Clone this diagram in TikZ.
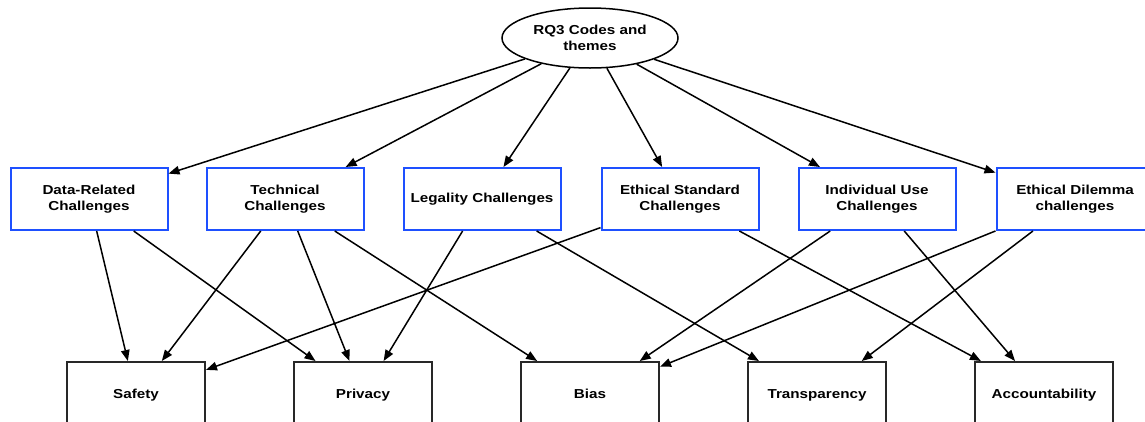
\documentclass[tikz,border=0pt]{standalone}
\usepackage{fontspec}
\setmainfont[FakeStretch=1.17]{Liberation Sans}
\usetikzlibrary{shapes.geometric,arrows.meta}

\definecolor{boxblue}{RGB}{30,80,255}
\definecolor{boxgrey}{RGB}{40,40,40}

\begin{document}
\begin{tikzpicture}[x=1pt,y=-1pt,
  every node/.style={font=\fontsize{13}{15.5}\selectfont\bfseries, align=center, inner sep=0pt},
  theme/.style={draw, ellipse, line width=1.5pt, minimum width=176pt, minimum height=60pt},
  challenge/.style={draw=boxblue, line width=2pt, minimum width=157pt, minimum height=62pt},
  concern/.style={draw=boxgrey, line width=2pt, minimum width=138pt, minimum height=66pt, text height=9.5pt, text depth=3pt},
  link/.style={-{Triangle[length=11pt,width=8.5pt]}, line width=1.5pt}]

% page frame
\useasboundingbox (0,0) rectangle (1145,421);
\clip (0,0) rectangle (1145,421);

% root
\node[theme] (rq) at (590,38) {RQ3 Codes and\\themes};

% challenge boxes
\node[challenge] (data) at (89,199) {Data-Related\\Challenges};
\node[challenge] (tech) at (285,199) {Technical\\Challenges};
\node[challenge] (legal) at (482,199) {Legality Challenges};
\node[challenge] (ethstd) at (680,199) {Ethical Standard\\Challenges};
\node[challenge] (indiv) at (877,199) {Individual Use\\Challenges};
\node[challenge] (ethdil) at (1075,199) {Ethical Dilemma\\challenges};

% concerns
\node[concern] (safety) at (136,395) {Safety};
\node[concern] (privacy) at (363,395) {Privacy};
\node[concern] (bias) at (590,395) {Bias};
\node[concern] (transp) at (817,395) {Transparency};
\node[concern] (account) at (1044,395) {Accountability};

% root to challenges
\draw[link] (rq) -- (data);
\draw[link] (rq) -- (tech);
\draw[link] (rq) -- (legal);
\draw[link] (rq) -- (ethstd);
\draw[link] (rq) -- (indiv);
\draw[link] (rq) -- (ethdil);

% challenges to concerns
\draw[link] (data) -- (safety);
\draw[link] (data) -- (privacy);
\draw[link] (tech) -- (safety);
\draw[link] (tech) -- (privacy);
\draw[link] (tech) -- (bias);
\draw[link] (legal) -- (privacy);
\draw[link] (legal) -- (transp);
\draw[link] (ethstd) -- (safety);
\draw[link] (ethstd) -- (account);
\draw[link] (indiv) -- (bias);
\draw[link] (indiv) -- (account);
\draw[link] (ethdil) -- (bias);
\draw[link] (ethdil) -- (transp);

\end{tikzpicture}
\end{document}
